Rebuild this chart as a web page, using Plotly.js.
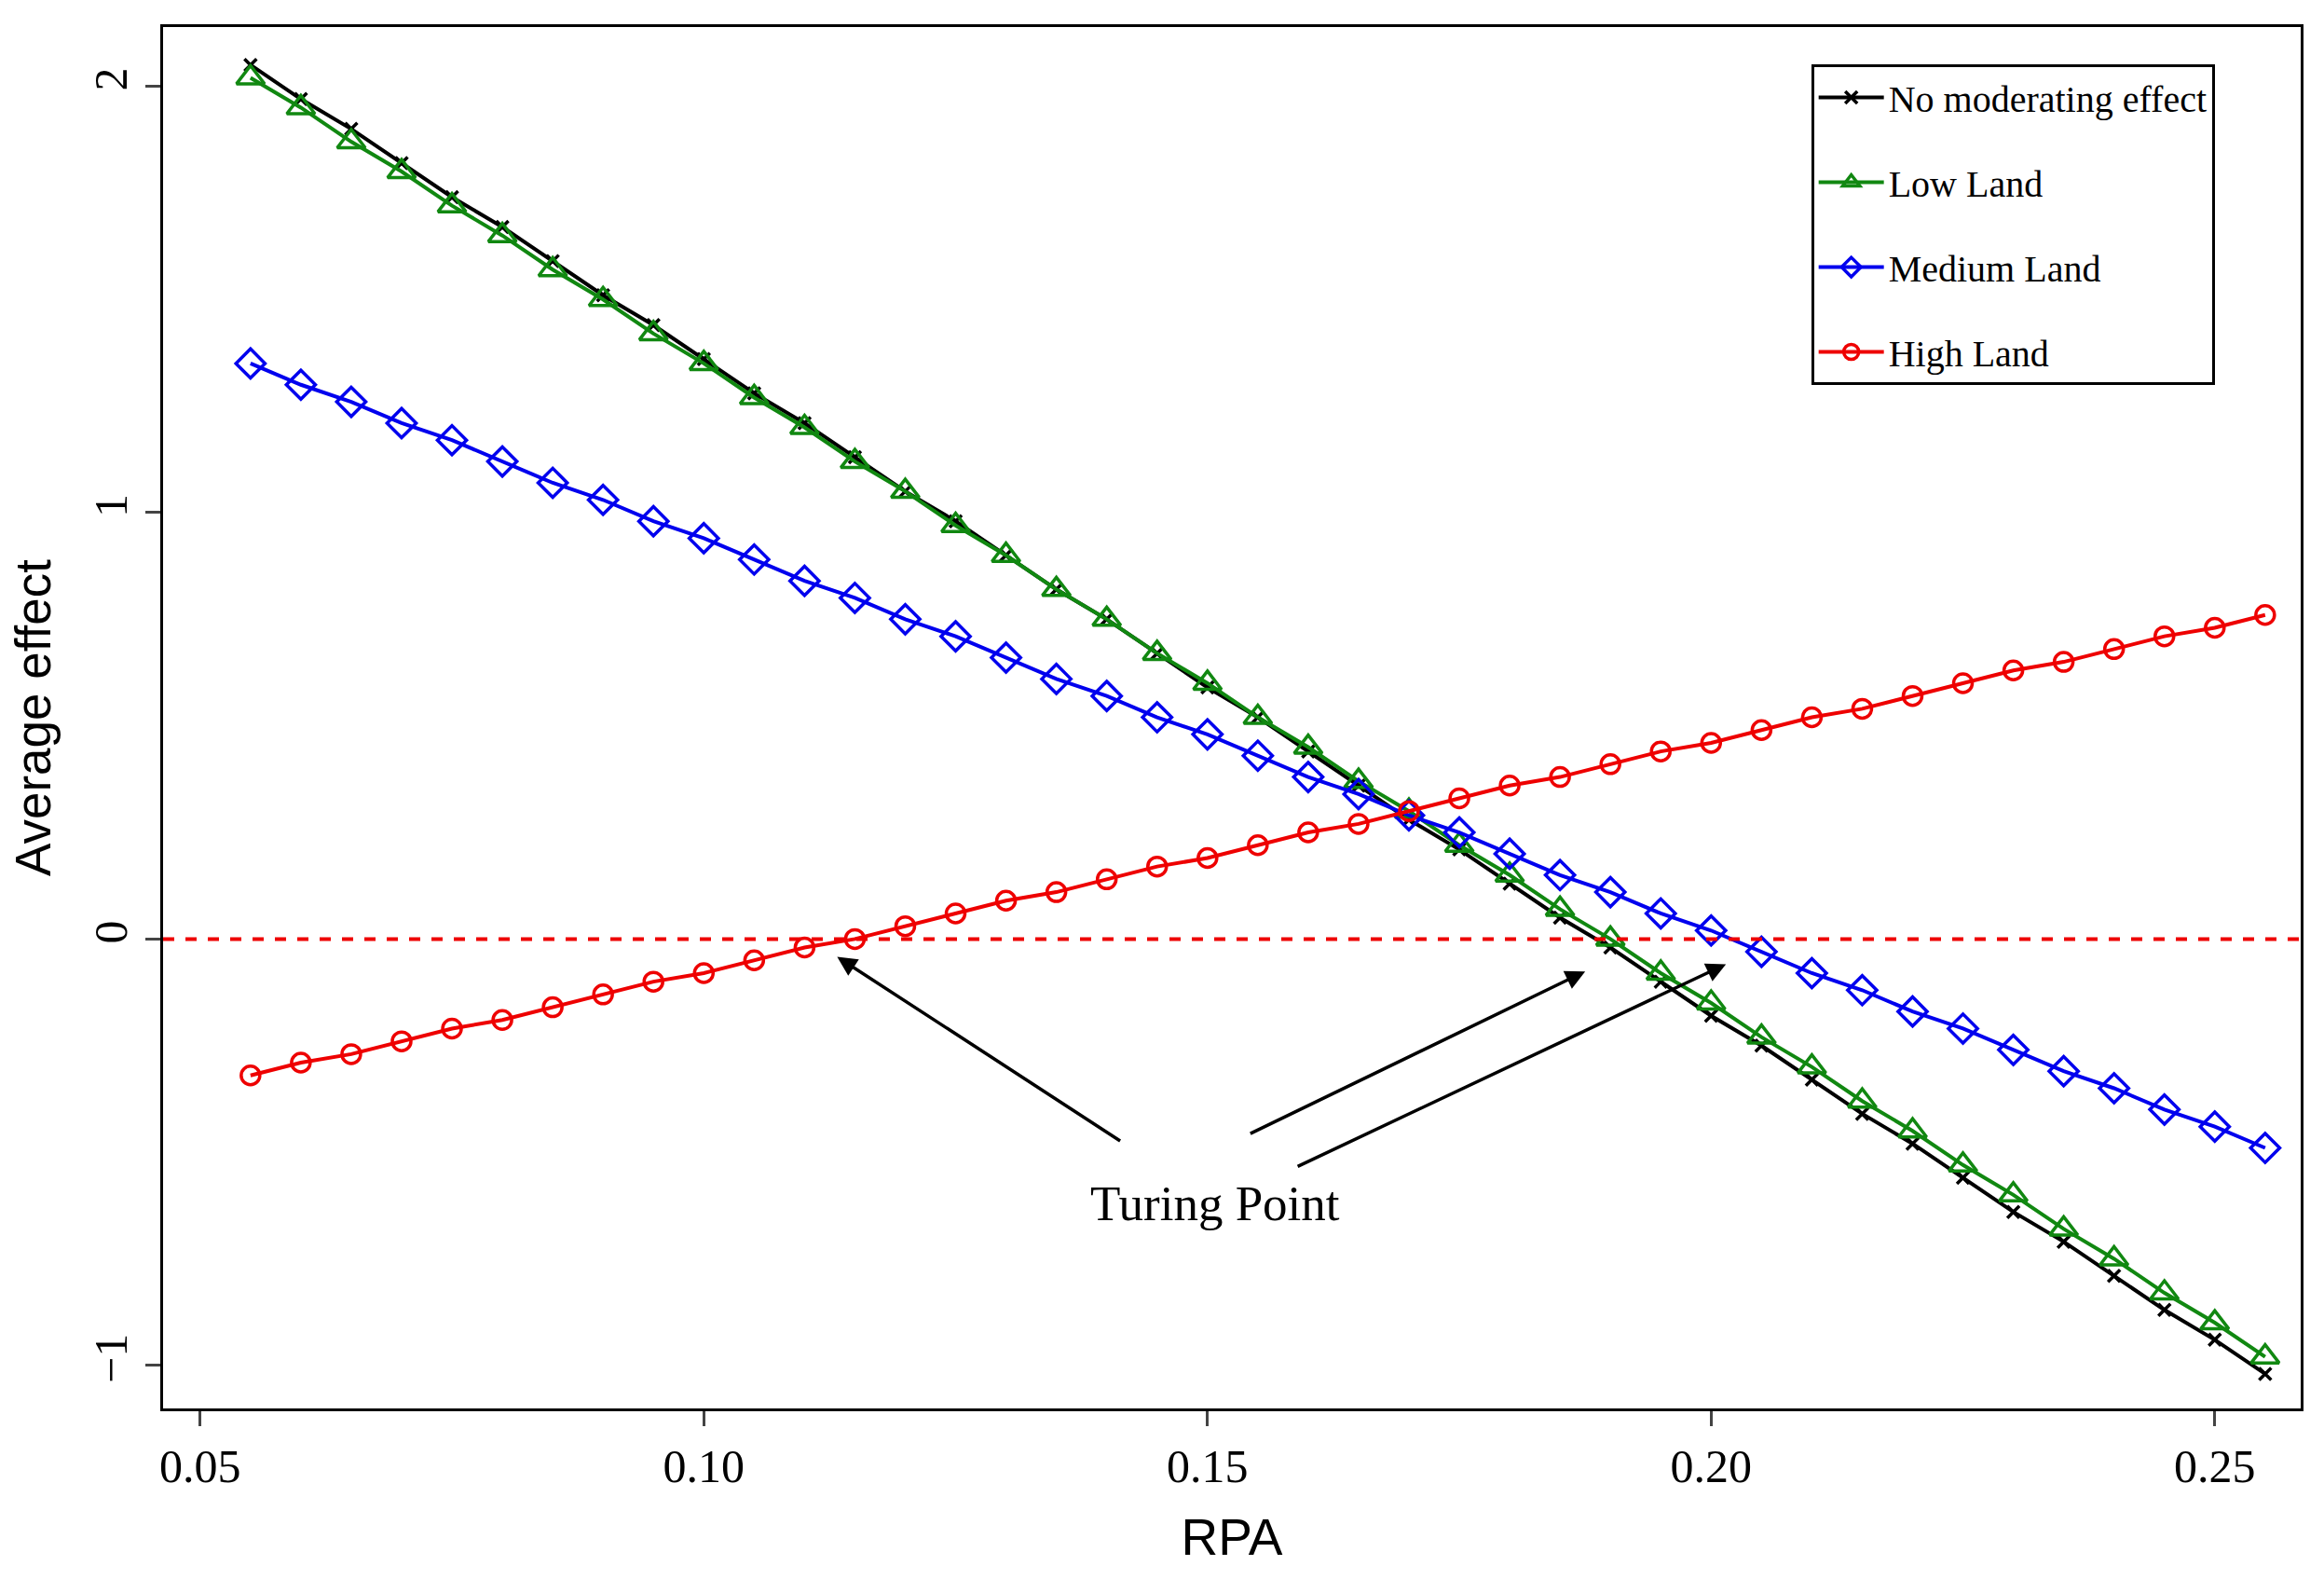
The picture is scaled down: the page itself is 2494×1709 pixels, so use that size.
<!DOCTYPE html>
<html><head><meta charset="utf-8">
<script src="https://cdn.plot.ly/plotly-3.0.1.min.js"></script>
<style>body{margin:0;background:#fff}#c{width:2494px;height:1709px}</style>
</head><body><div id="c"></div>
<script>
const rpa = [0.055,0.06,0.065,0.07,0.075,0.08,0.085,0.09,0.095,0.10,0.105,0.11,0.115,0.12,0.125,0.13,0.135,0.14,0.145,0.15,0.155,0.16,0.165,0.17,0.175,0.18,0.185,0.19,0.195,0.20,0.205,0.21,0.215,0.22,0.225,0.23,0.235,0.24,0.245,0.25,0.255];
const noModerating = [2.05,1.97,1.90,1.82,1.74,1.67,1.59,1.51,1.44,1.36,1.28,1.21,1.13,1.05,0.98,0.90,0.82,0.75,0.67,0.59,0.52,0.44,0.36,0.28,0.21,0.13,0.05,-0.02,-0.10,-0.18,-0.25,-0.33,-0.41,-0.48,-0.56,-0.64,-0.71,-0.79,-0.87,-0.94,-1.02];
const lowLand = [2.02,1.95,1.87,1.80,1.72,1.65,1.57,1.50,1.42,1.35,1.27,1.20,1.12,1.05,0.97,0.90,0.82,0.75,0.67,0.60,0.52,0.45,0.37,0.30,0.22,0.15,0.07,0.00,-0.08,-0.15,-0.23,-0.30,-0.38,-0.45,-0.53,-0.60,-0.68,-0.75,-0.83,-0.90,-0.98];
const mediumLand = [1.35,1.30,1.26,1.21,1.17,1.12,1.07,1.03,0.98,0.94,0.89,0.84,0.80,0.75,0.71,0.66,0.61,0.57,0.52,0.48,0.43,0.38,0.34,0.29,0.25,0.20,0.15,0.11,0.06,0.02,-0.03,-0.08,-0.12,-0.17,-0.21,-0.26,-0.31,-0.35,-0.40,-0.44,-0.49];
const highLand = [-0.32,-0.29,-0.27,-0.24,-0.21,-0.19,-0.16,-0.13,-0.10,-0.08,-0.05,-0.02,0.00,0.03,0.06,0.09,0.11,0.14,0.17,0.19,0.22,0.25,0.27,0.30,0.33,0.36,0.38,0.41,0.44,0.46,0.49,0.52,0.54,0.57,0.60,0.63,0.65,0.68,0.71,0.73,0.76];
const xTicks = [0.05,0.10,0.15,0.20,0.25];
const yTicks = [-1,0,1,2];
const serif = "Liberation Serif, Times New Roman, serif";
const sans = "Liberation Sans, Arial, sans-serif";
function tr(name,y,color,sym,size){
  return {x:rpa,y:y,name:name,legendgroup:name,type:'scatter',mode:'lines+markers',
    line:{color:color,width:4},marker:{symbol:sym,size:size,color:color,line:{color:color,width:3.5}}};
}
const data = [
  tr('No moderating effect',noModerating,'#000000','x-thin-open',13),
  tr('Low Land',lowLand,'#118811','triangle-up-open',26),
  tr('Medium Land',mediumLand,'#0000ee','diamond-open',24),
  tr('High Land',highLand,'#ee0000','circle-open',20)
];
function arrow(ax,ay,x,y){return {x:x,y:y,ax:ax,ay:ay,xref:'x',yref:'y',axref:'x',ayref:'y',text:'',showarrow:true,arrowhead:2,arrowsize:1.2,arrowwidth:3.5,arrowcolor:'#000'};}
const layout = {
  width:2494,height:1709,paper_bgcolor:'#fff',plot_bgcolor:'#fff',
  margin:{l:175,r:25,t:29,b:198},
  showlegend:true,
  legend:{x:0.771,y:0.973,xanchor:'left',yanchor:'top',bordercolor:'#000',borderwidth:3,bgcolor:'#fff',
    font:{family:serif,size:40,color:'#000'},tracegroupgap:36,itemwidth:70},
  xaxis:{range:[0.04632,0.25853],tickvals:xTicks,tickformat:'.2f',ticks:'outside',ticklen:16,tickwidth:3,
    showline:true,mirror:true,linewidth:3,linecolor:'#000',showgrid:false,zeroline:false,
    tickfont:{family:serif,size:50,color:'#000'},
    title:{text:'RPA',font:{family:sans,size:55,color:'#000'},standoff:30}},
  yaxis:{range:[-1.101,2.139],tickvals:yTicks,ticks:'outside',ticklen:16,tickwidth:3,tickangle:-90,
    showline:true,mirror:true,linewidth:3,linecolor:'#000',showgrid:false,zeroline:false,
    tickfont:{family:serif,size:50,color:'#000'},
    title:{text:'Average effect',font:{family:sans,size:53,color:'#000'},standoff:20}},
  shapes:[{type:'line',xref:'paper',x0:0,x1:1,yref:'y',y0:0,y1:0,line:{color:'#ee0000',width:4,dash:'dash'}}],
  annotations:[
    arrow(0.14147,-0.4757,0.11324,-0.0417),
    arrow(0.15412,-0.458,0.1875,-0.076),
    arrow(0.15882,-0.535,0.20147,-0.059),
    {x:0.15074,y:-0.62,xref:'x',yref:'y',text:'Turing Point',showarrow:false,font:{family:serif,size:53,color:'#000'}}
  ]
};
Plotly.newPlot('c',data,layout,{displayModeBar:false});
</script></body></html>
